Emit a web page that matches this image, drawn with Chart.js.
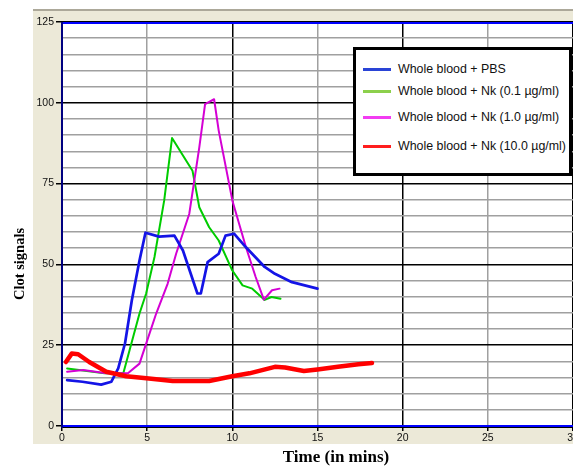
<!DOCTYPE html>
<html>
<head>
<meta charset="utf-8">
<script src="https://cdn.jsdelivr.net/npm/chart.js@4/dist/chart.umd.min.js"></script>
<style>
  body { margin: 0; background: #fff; }
  #wrap { position: relative; width: 573px; height: 466px; overflow: hidden; }
  #legend {
    position: absolute; left: 353px; top: 47px; width: 219px; height: 129px;
    box-sizing: border-box; border: 3px solid #000; background: #fff;
  }
  .item { position: absolute; left: 7px; height: 16px; font: 12.4px "Liberation Sans", Arial, sans-serif; color: #111; white-space: nowrap; }
  .item span.sw { position: absolute; left: 0; top: 7px; width: 28px; height: 3px; }
  .item span.tx { position: absolute; left: 35px; top: 0; line-height: 16px; }
</style>
</head>
<body>
<div id="wrap">
  <canvas id="clotChart" width="573" height="466"></canvas>
  <div id="legend"></div>
</div>
<script>
// Clot signal readings over time (minutes)
const pbsTime   = [0.3, 1.2, 2.3, 2.9, 3.3, 3.7, 4.1, 4.55, 4.9, 5.7, 6.6, 7.1, 7.95, 8.15, 8.55, 9.2, 9.6, 10.1, 10.8, 11.9, 12.5, 13.5, 15.0];
const pbsSignal = [14.2, 13.7, 12.8, 13.7, 17.8, 25.6, 38.9, 51.2, 59.8, 58.6, 58.9, 54.3, 41, 41, 50.7, 53.3, 58.9, 59.5, 55.3, 49.2, 47.1, 44.5, 42.5];

const nk01Time   = [0.3, 1.0, 2.5, 3.6, 3.97, 4.55, 4.94, 5.43, 6.0, 6.46, 7.66, 8.06, 8.64, 9.2, 10.0, 10.6, 11.17, 11.9, 12.3, 12.83];
const nk01Signal = [17.8, 17.3, 16.3, 16.3, 23.5, 34.8, 41, 52.3, 69.8, 89.1, 79, 67.7, 61.5, 57.4, 48.1, 43.5, 42.5, 39.0, 39.9, 39.4];

const nk1Time   = [0.3, 1.24, 2.6, 3.87, 4.55, 4.94, 5.53, 6.2, 6.7, 7.47, 8.06, 8.4, 8.93, 9.2, 10.0, 10.8, 11.37, 11.85, 12.33, 12.77];
const nk1Signal = [16.8, 17.3, 16.3, 16.3, 19.3, 25.5, 34.8, 44, 53.3, 65.6, 86.2, 99.6, 101.1, 91.4, 69.8, 55.3, 46.1, 39.1, 42, 42.5];

const nk10Time   = [0.23, 0.57, 0.95, 1.6, 2.6, 3.77, 5.1, 6.5, 8.64, 10.0, 11.0, 12.5, 13.1, 14.2, 15.0, 16.2, 17.4, 18.2];
const nk10Signal = [19.8, 22.4, 22.2, 19.8, 16.8, 15.4, 14.7, 13.9, 13.9, 15.4, 16.3, 18.3, 18.1, 17.0, 17.5, 18.3, 19.1, 19.5];

const seriesLabels = [
  'Whole blood + PBS',
  'Whole blood + Nk (0.1 µg/ml)',
  'Whole blood + Nk (1.0 µg/ml)',
  'Whole blood + Nk (10.0 µg/ml)'
];
const lineColors   = ['#1414E6', '#00CC00', '#D400D4', '#FF0000'];
const legendColors = ['#2A44D6', '#8CD04C', '#F23CF2', '#FF1E1E'];
const legendTops   = [11, 33, 59, 88];

const xTicks = [0, 5, 10, 15, 20, 25, 30];
const yLabelStep = 25;

function toPoints(xs, ys) {
  return xs.map((x, i) => ({ x: x, y: ys[i] }));
}

// legend box
const legend = document.getElementById('legend');
seriesLabels.forEach((label, i) => {
  const item = document.createElement('div');
  item.className = 'item';
  item.style.top = legendTops[i] + 'px';
  item.innerHTML = '<span class="sw" style="background:' + legendColors[i] + '"></span><span class="tx"></span>';
  item.querySelector('.tx').textContent = label;
  legend.appendChild(item);
});

// panel background, frame and axis titles
const framePlugin = {
  id: 'frame',
  beforeDraw(chart) {
    const c = chart.ctx, a = chart.chartArea;
    c.save();
    c.fillStyle = '#fff';
    c.fillRect(0, 0, chart.width, chart.height);
    c.fillStyle = '#ECE9D8';
    c.fillRect(33, 10, chart.width - 33, 434);
    c.fillStyle = '#ACA899';
    c.fillRect(33, 9, chart.width - 33, 2);
    c.fillStyle = '#fff';
    c.fillRect(a.left, a.top, a.right - a.left, a.bottom - a.top);
    c.restore();
  },
  afterDraw(chart) {
    const c = chart.ctx, a = chart.chartArea;
    c.save();
    c.fillStyle = '#0000FF';
    c.fillRect(a.left, a.top, a.right - a.left, 2);
    c.fillRect(a.left, a.bottom - 1, a.right - a.left, 2);
    c.fillStyle = '#000';
    c.fillRect(a.left, a.bottom + 1, a.right - a.left, 1);
    c.fillStyle = '#000080';
    c.fillRect(a.left - 1, a.top, 2, a.bottom - a.top + 2);

    c.fillStyle = '#000';
    c.font = 'bold 17px "Liberation Serif", "Times New Roman", serif';
    c.textAlign = 'center';
    c.textBaseline = 'alphabetic';
    c.fillText('Time (in mins)', 336, 462);
    c.translate(24, 264);
    c.rotate(-Math.PI / 2);
    c.font = 'bold 14.5px "Liberation Serif", "Times New Roman", serif';
    c.fillText('Clot signals', 0, 0);
    c.restore();
  }
};

const tickFont = { family: '"Liberation Sans", Arial, sans-serif', size: 10.5 };

new Chart(document.getElementById('clotChart'), {
  type: 'line',
  data: {
    datasets: [
      { label: seriesLabels[3], data: toPoints(nk10Time, nk10Signal), borderColor: lineColors[3], borderWidth: 4.5 },
      { label: seriesLabels[0], data: toPoints(pbsTime, pbsSignal), borderColor: lineColors[0], borderWidth: 2.7 },
      { label: seriesLabels[2], data: toPoints(nk1Time, nk1Signal), borderColor: lineColors[2], borderWidth: 2 },
      { label: seriesLabels[1], data: toPoints(nk01Time, nk01Signal), borderColor: lineColors[1], borderWidth: 2 }
    ]
  },
  options: {
    responsive: false,
    animation: false,
    events: [],
    layout: { autoPadding: false, padding: { top: 22, left: 0, right: -2, bottom: 0 } },
    elements: { point: { radius: 0 }, line: { tension: 0, borderCapStyle: 'round', borderJoinStyle: 'round' } },
    plugins: { legend: { display: false }, tooltip: { enabled: false } },
    scales: {
      x: {
        type: 'linear', min: 0, max: 30,
        afterBuildTicks: s => { s.ticks = xTicks.map(v => ({ value: v })); },
        afterFit: s => { s.height = 40; s.paddingLeft = 0; s.paddingRight = 0; },
        ticks: { font: tickFont, color: '#111', padding: 1, maxRotation: 0, autoSkip: false },
        grid: {
          color: ctx => ctx.tick && ctx.tick.value % 10 === 0 ? '#000' : '#A0A0A0',
          lineWidth: 1.5, tickLength: 5, tickColor: '#000'
        },
        border: { display: false }
      },
      y: {
        min: 0, max: 125,
        afterFit: s => { s.width = 62; s.paddingTop = 0; s.paddingBottom = 0; },
        ticks: {
          stepSize: 5, autoSkip: false, font: tickFont, color: '#111', padding: 2,
          callback: v => v % yLabelStep === 0 ? v : ''
        },
        grid: {
          color: ctx => ctx.tick && ctx.tick.value % yLabelStep === 0 ? '#000' : '#A0A0A0',
          tickColor: ctx => ctx.tick && ctx.tick.value % yLabelStep === 0 ? '#000' : 'rgba(0,0,0,0)',
          lineWidth: 1.5, tickLength: 6
        },
        border: { display: false }
      }
    }
  },
  plugins: [framePlugin]
});
</script>
</body>
</html>
